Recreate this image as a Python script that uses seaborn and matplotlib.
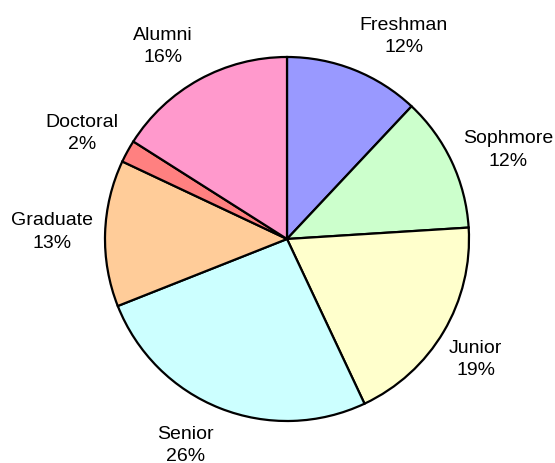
import numpy as np
import matplotlib
matplotlib.use("Agg")
import matplotlib.pyplot as plt
import seaborn as sns

# Enrollment share by class standing
categories = ["Freshman", "Sophmore", "Junior", "Senior", "Graduate", "Doctoral", "Alumni"]
shares = [12, 12, 19, 26, 13, 2, 16]
slice_colors = ["#9999FF", "#CCFFCC", "#FFFFCC", "#CCFFFF", "#FFCC99", "#FF8080", "#FF99CC"]

# label placement: angular nudge (degrees) and distance (in radii) for each label
label_nudge = [-8.4, -3.3, -2.0, -4.6, 0.1, 1.6, 4.0]
label_dist = [1.285, 1.31, 1.23, 1.265, 1.29, 1.265, 1.26]

sns.set_theme(style="white")
plt.rcParams["font.family"] = ["Liberation Sans", "DejaVu Sans"]

palette = sns.color_palette(slice_colors)

W, H, DPI = 555, 463, 100
fig = plt.figure(figsize=(W / DPI, H / DPI), dpi=DPI)
cx, cy, r = 287, 239, 182
ax = fig.add_axes([(cx - r) / W, (H - cy - r) / H, 2 * r / W, 2 * r / H])

wedges, _ = ax.pie(
    shares,
    colors=palette,
    startangle=90,
    counterclock=False,
    radius=1.0,
    wedgeprops=dict(edgecolor="black", linewidth=1.6),
)
ax.set_xlim(-1, 1)
ax.set_ylim(-1, 1)
ax.set_aspect("equal")
ax.axis("off")

total = sum(shares)
for w, name, val, nudge, dist in zip(wedges, categories, shares, label_nudge, label_dist):
    mid = np.deg2rad((w.theta1 + w.theta2) / 2 + nudge)
    ax.text(
        dist * np.cos(mid),
        dist * np.sin(mid),
        f"{name}\n{round(100 * val / total)}%",
        ha="center",
        va="center",
        fontsize=14,
        linespacing=1.4,
        color="black",
        clip_on=False,
    )

fig.savefig("out.png", dpi=DPI, facecolor="white")
